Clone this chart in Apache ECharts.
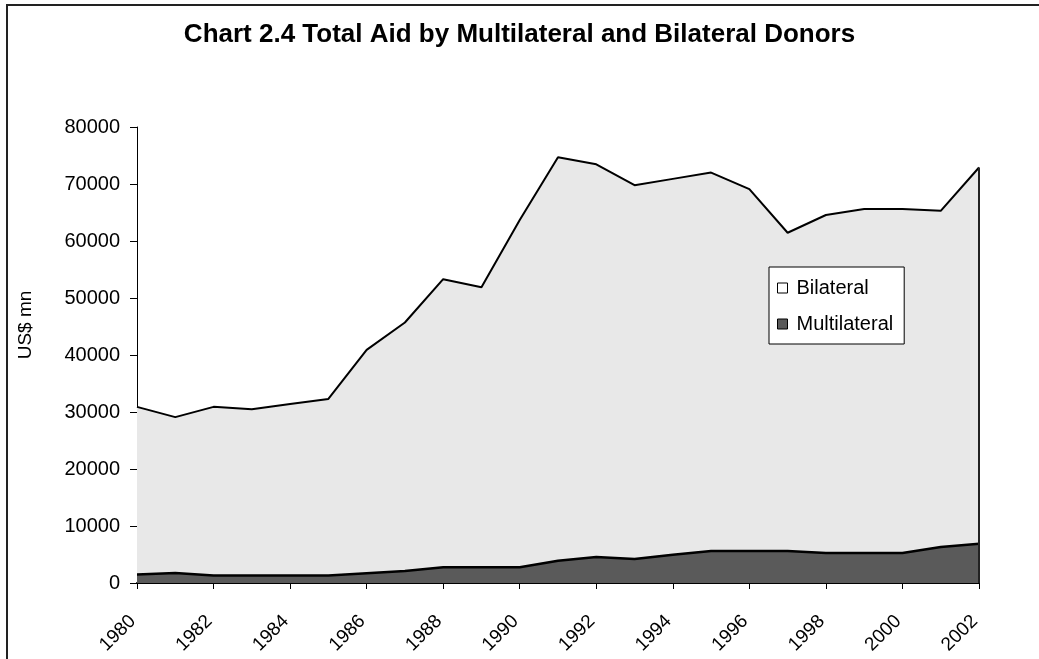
<!DOCTYPE html>
<html>
<head>
<meta charset="utf-8">
<script src="https://cdn.jsdelivr.net/npm/echarts@6/dist/echarts.min.js"></script>
<style>
  html, body { margin: 0; padding: 0; background: #fff; }
  #main { width: 1039px; height: 659px; }
</style>
</head>
<body>
<div id="main"></div>
<script>
// years on the category axis
var years = ['1980','1981','1982','1983','1984','1985','1986','1987','1988','1989','1990',
  '1991','1992','1993','1994','1995','1996','1997','1998','1999','2000','2001','2002'];
// US$ mn
var multilateral = [1470, 1750, 1300, 1300, 1300, 1300, 1700, 2100, 2750, 2750, 2750,
  3900, 4560, 4200, 4970, 5600, 5600, 5600, 5260, 5260, 5260, 6300, 6900];
var bilateral = [29430, 27350, 29600, 29200, 30100, 31000, 39200, 43600, 50550, 49150, 60950,
  70800, 68890, 65600, 65930, 66400, 63500, 55850, 59300, 60340, 60340, 59000, 66000];
var yTicks = [0, 10000, 20000, 30000, 40000, 50000, 60000, 70000, 80000];

var font = 'Arial, "Liberation Sans", sans-serif';
var last = years.length - 1;

var myChart = echarts.init(document.getElementById('main'));
myChart.setOption({
  backgroundColor: '#fff',
  animation: false,
  title: {
    text: 'Chart 2.4 Total Aid by Multilateral and Bilateral Donors',
    left: 'center',
    top: 17,
    textStyle: { fontFamily: font, fontSize: 26, fontWeight: 'bold', color: '#000' }
  },
  graphic: [
    {
      // chart frame, cropped on the right and bottom
      type: 'rect',
      shape: { x: 7, y: 5, width: 1200, height: 800 },
      style: { fill: null, stroke: '#222', lineWidth: 2 },
      silent: true
    },
    {
      type: 'text',
      x: 26,
      y: 325,
      rotation: Math.PI / 2,
      style: {
        text: 'US$ mn',
        fontFamily: font,
        fontSize: 19,
        fill: '#000',
        textAlign: 'center',
        textVerticalAlign: 'middle'
      },
      silent: true
    }
  ],
  legend: {
    orient: 'vertical',
    left: 769,
    top: 267,
    backgroundColor: '#fff',
    borderColor: '#000',
    borderWidth: 1,
    padding: [11, 11, 10, 8],
    itemGap: 16,
    itemWidth: 10,
    itemHeight: 10,
    icon: 'rect',
    textStyle: { fontFamily: font, fontSize: 20, color: '#000', padding: [0, 0, 0, 4] },
    data: [
      { name: 'Bilateral', itemStyle: { color: '#fff', borderColor: '#000', borderWidth: 1 } },
      { name: 'Multilateral', itemStyle: { color: '#5a5a5a', borderColor: '#000', borderWidth: 1 } }
    ]
  },
  grid: { left: 137, right: 60, top: 127, bottom: 76, containLabel: false },
  xAxis: {
    type: 'category',
    data: years,
    boundaryGap: false,
    axisLine: { lineStyle: { color: '#000', width: 2 } },
    axisTick: { interval: 1, length: 6, lineStyle: { color: '#000' } },
    axisLabel: {
      interval: 1, rotate: 45, margin: 31,
      padding: [0, 6, 0, 0],
      fontFamily: font, fontSize: 19, color: '#000'
    },
    splitLine: { show: false }
  },
  yAxis: {
    type: 'value',
    min: yTicks[0],
    max: yTicks[yTicks.length - 1],
    interval: 10000,
    axisLine: { show: true, lineStyle: { color: '#000' } },
    axisTick: { show: true, length: 7, lineStyle: { color: '#000' } },
    axisLabel: {
      fontFamily: font, fontSize: 20, color: '#000', margin: 17,
      formatter: function (v) { return String(v); }
    },
    splitLine: { show: false }
  },
  series: [
    {
      name: 'Multilateral',
      type: 'line',
      stack: 'total',
      data: multilateral,
      symbol: 'none',
      lineStyle: { color: '#000', width: 2.5 },
      itemStyle: { color: '#5a5a5a' },
      areaStyle: { color: '#5a5a5a', opacity: 1 },
      z: 3
    },
    {
      name: 'Bilateral',
      type: 'line',
      stack: 'total',
      data: bilateral,
      symbol: 'none',
      lineStyle: { color: '#000', width: 2 },
      itemStyle: { color: '#e8e8e8' },
      areaStyle: { color: '#e8e8e8', opacity: 1 },
      z: 2,
      markLine: {
        silent: true,
        symbol: 'none',
        label: { show: false },
        lineStyle: { color: '#222', width: 2, type: 'solid' },
        data: [[
          { coord: [years[last], 0] },
          { coord: [years[last], multilateral[last] + bilateral[last]] }
        ]]
      }
    }
  ]
});
</script>
</body>
</html>
